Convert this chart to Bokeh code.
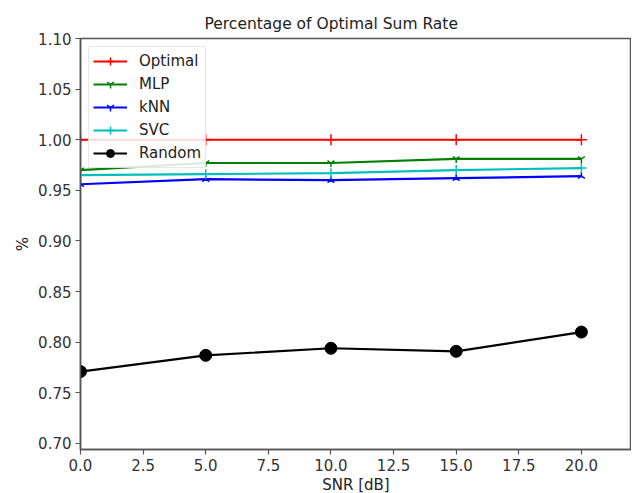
import numpy as np
from bokeh.plotting import figure
from bokeh.models import Range1d, FixedTicker, NumeralTickFormatter
from bokeh.embed import file_html
from bokeh.resources import INLINE

snr = [0, 5, 10, 15, 20]
optimal = [1.000, 1.000, 1.000, 1.000, 1.000]
mlp = [0.970, 0.977, 0.977, 0.981, 0.981]
knn = [0.956, 0.961, 0.960, 0.962, 0.964]
svc = [0.965, 0.966, 0.967, 0.970, 0.972]
rand = [0.771, 0.787, 0.794, 0.791, 0.810]

x_ticks = [0, 2.5, 5, 7.5, 10, 12.5, 15, 17.5, 20]
y_ticks = [0.70, 0.75, 0.80, 0.85, 0.90, 0.95, 1.00, 1.05, 1.10]

FONT = "DejaVu Sans"

p = figure(frame_width=551, frame_height=411, output_backend="svg", toolbar_location=None,
           x_range=Range1d(0, 22), y_range=Range1d(0.694, 1.10),
           title="Percentage of Optimal Sum Rate",
           min_border_left=80, min_border_top=38, min_border_right=0, min_border_bottom=0)

p.title.align = "left"
p.title.offset = 124
p.title.text_font = FONT
p.title.text_font_size = "15.5px"
p.title.text_font_style = "normal"
p.title.text_color = "#222222"
p.title.standoff = 12

p.grid.visible = False
p.outline_line_color = "#555555"
p.outline_line_width = 1.5

for ax in (p.xaxis, p.yaxis):
    ax.major_label_text_font = FONT
    ax.major_label_text_font_size = "15px"
    ax.major_label_text_color = "#333333"
    ax.axis_label_text_font = FONT
    ax.axis_label_text_font_size = "15px"
    ax.axis_label_text_font_style = "normal"
    ax.axis_label_text_color = "#222222"
    ax.minor_tick_line_color = None
    ax.major_tick_out = 5
    ax.major_tick_in = 0
    ax.axis_line_color = "#555555"
    ax.axis_line_width = 1.5
    ax.major_tick_line_color = "#555555"
    ax.major_tick_line_width = 1.2
    ax.major_label_standoff = 4

p.xaxis.ticker = FixedTicker(ticks=x_ticks)
p.xaxis.formatter = NumeralTickFormatter(format="0.0")
p.yaxis.ticker = FixedTicker(ticks=y_ticks)
p.yaxis.formatter = NumeralTickFormatter(format="0.00")
p.xaxis.axis_label = "SNR [dB]"
p.yaxis.axis_label = "%"
p.xaxis.axis_label_standoff = 2
p.yaxis.axis_label_standoff = 3

series = [
    ("Optimal", optimal, "#ff0000", "cross", 0.0, 11),
    ("MLP", mlp, "#008000", "y", 0.0, 8),
    ("kNN", knn, "#0000ff", "y", np.pi, 8),
    ("SVC", svc, "#00bfbf", "cross", 0.0, 10),
]
for name, ys, col, mk, ang, sz in series:
    p.line(snr, ys, line_color=col, line_width=2.2, legend_label=name)
    p.scatter(snr, ys, marker=mk, size=sz, angle=ang, line_color=col, line_width=1.5,
              fill_color=col, legend_label=name)

p.line(snr, rand, line_color="black", line_width=2.2, legend_label="Random")
p.scatter(snr, rand, marker="circle", size=12, fill_color="black", line_color="black",
          legend_label="Random")

p.legend.location = "top_left"
p.legend.label_text_font = FONT
p.legend.label_text_font_size = "15px"
p.legend.label_text_color = "#222222"
p.legend.border_line_color = "#d0d0d0"
p.legend.background_fill_alpha = 0.85
p.legend.margin = 8
p.legend.padding = 4
p.legend.spacing = 3
p.legend.label_height = 20
p.legend.glyph_height = 20
p.legend.glyph_width = 34
p.legend.label_standoff = 12

open("out.html", "w").write(file_html(p, INLINE))
